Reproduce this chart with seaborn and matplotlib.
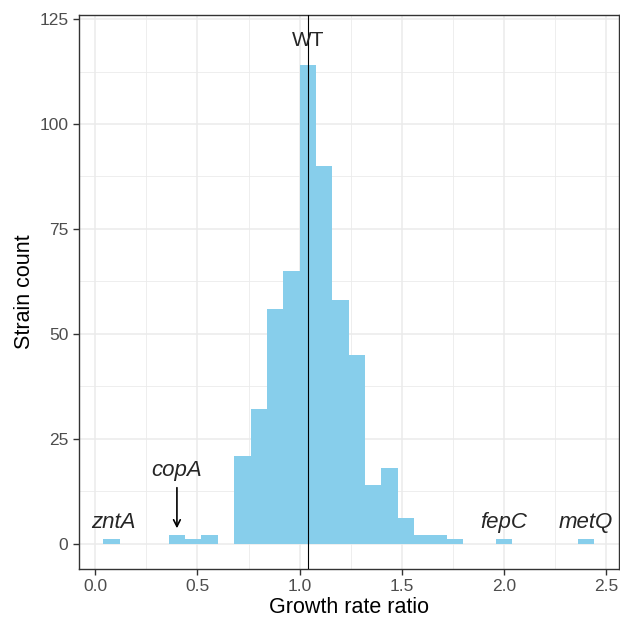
import matplotlib
matplotlib.use("Agg")
import matplotlib.pyplot as plt
import seaborn as sns
from matplotlib.ticker import MultipleLocator

sns.set_theme(style="whitegrid")
plt.rcParams["font.family"] = ["Liberation Sans", "DejaVu Sans"]

# bin midpoints (growth rate ratio) and strain counts, bins of width 0.08
ratio = [0.08, 0.40, 0.48, 0.56, 0.72, 0.80, 0.88, 0.96, 1.04, 1.12,
         1.20, 1.28, 1.36, 1.44, 1.52, 1.60, 1.68, 1.76, 2.00, 2.40]
counts = [1, 2, 1, 2, 21, 32, 56, 65, 114, 90,
          58, 45, 14, 18, 6, 2, 2, 1, 1, 1]

wt_ratio = 1.04
genes = ["zntA", "copA", "fepC", "metQ"]
gene_x = [0.09, 0.40, 2.00, 2.40]
gene_y = [5, 17.5, 5, 5]

fig = plt.figure(figsize=(6.2, 6.19), dpi=100)
ax = fig.add_axes([0.127, 0.081, 0.871, 0.895])

sns.histplot(x=ratio, weights=counts, binwidth=0.08, binrange=(0.04, 2.44),
             color="skyblue", alpha=1, linewidth=0, edgecolor="none", ax=ax)

ax.axvline(wt_ratio, color="black", lw=0.8, zorder=3)
ax.text(wt_ratio, 120, "WT", ha="center", va="center", fontsize=15)

for g, x, y in zip(genes, gene_x, gene_y):
    ax.text(x, y, g, ha="center", va="center", fontsize=16, style="italic")

ax.annotate("", xy=(0.40, 3), xytext=(0.40, 14),
            arrowprops=dict(arrowstyle="->", color="black", lw=1.2))

ax.set_xlim(-0.08, 2.56)
ax.set_ylim(-6, 126)
ax.xaxis.set_major_locator(MultipleLocator(0.5))
ax.xaxis.set_minor_locator(MultipleLocator(0.25))
ax.yaxis.set_major_locator(MultipleLocator(25))
ax.yaxis.set_minor_locator(MultipleLocator(12.5))
ax.set_xticks([0, 0.5, 1.0, 1.5, 2.0, 2.5])
ax.set_xticklabels(["0.0", "0.5", "1.0", "1.5", "2.0", "2.5"])

ax.grid(which="major", color="#EBEBEB", lw=1.1)
ax.grid(which="minor", color="#EBEBEB", lw=0.6)
ax.set_axisbelow(True)
for s in ax.spines.values():
    s.set_color("#333333")
    s.set_linewidth(1.0)

ax.tick_params(axis="both", which="major", length=4, width=1.0, color="#333333",
               labelsize=12.5, labelcolor="#4D4D4D", direction="out", bottom=True, left=True)
ax.tick_params(which="minor", length=0)

ax.set_xlabel("Growth rate ratio", fontsize=15.5, color="black", labelpad=2)
ax.set_ylabel("Strain count", fontsize=15.5, color="black", labelpad=3)

fig.savefig("out.png", dpi=100)
